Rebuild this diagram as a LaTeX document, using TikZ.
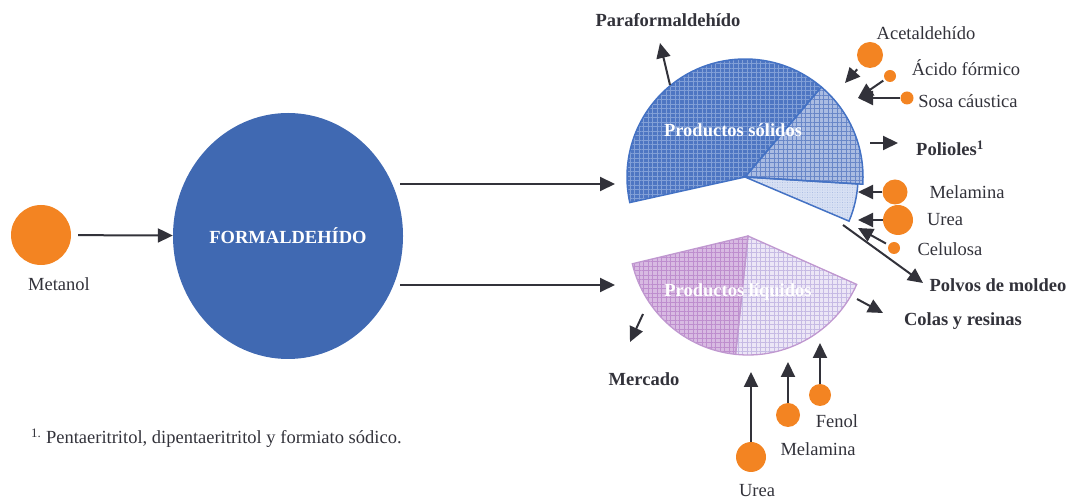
\documentclass[tikz,border=0pt]{standalone}
\usepackage{fontspec}
\setmainfont{Liberation Serif}
\usetikzlibrary{arrows.meta,patterns.meta,shapes.geometric}

\definecolor{naranja}{RGB}{243,132,34}
\definecolor{azulF}{RGB}{64,105,178}
\definecolor{gris}{RGB}{50,50,58}
\definecolor{borde}{RGB}{68,114,196}
\definecolor{azulA}{RGB}{78,118,194}
\definecolor{azulAl}{RGB}{130,160,215}
\definecolor{azulB}{RGB}{170,188,226}
\definecolor{azulBl}{RGB}{105,135,200}
\definecolor{azulC}{RGB}{215,224,243}
\definecolor{azulCl}{RGB}{150,172,220}
\definecolor{lila}{RGB}{192,152,208}
\definecolor{lilaA}{RGB}{216,186,226}
\definecolor{lilaAl}{RGB}{190,142,206}
\definecolor{lilaB}{RGB}{236,230,246}
\definecolor{lilaBl}{RGB}{198,186,228}

\newcommand\cuna[4]{(#1) -- ++(#2:#4) arc[start angle=#2,end angle=#3,radius=#4] -- cycle}

\begin{document}
\begin{tikzpicture}[x=1pt,y=1pt,
  flecha/.style={-{Triangle[length=15pt,width=14pt]},line width=2pt,draw=gris},
  bola/.style={circle,fill=naranja,inner sep=0pt,minimum size=#1},
  etiq/.style={text=gris,inner sep=0pt,font=\fontsize{18.5}{21}\selectfont},
  negrita/.style={etiq,font=\fontsize{18.5}{21}\selectfont\bfseries}]
  \useasboundingbox (0,0) rectangle (1070,500);

  % metanol -> formaldehido
  \node[bola=60pt] (metanol) at (41,265) {};
  \node[etiq] (lmetanol) at (59,216) {Metanol};
  \node[ellipse,fill=azulF,minimum width=230pt,minimum height=246pt,inner sep=0pt,
        text=white,font=\fontsize{18.5}{21}\selectfont\bfseries] (form) at (288,264) {FORMALDEHÍDO};
  \draw[flecha,shorten <=7pt] (metanol) -- (form);

  \coordinate (sal1) at (400,316);
  \coordinate (ent1) at (615,316);
  \coordinate (sal2) at (400,215);
  \coordinate (ent2) at (615,215);
  \draw[flecha] (sal1) -- (ent1);
  \draw[flecha] (sal2) -- (ent2);

  % productos solidos (tarta)
  \coordinate (S) at (745,323);
  \fill[azulA] \cuna{S}{49.7}{192.5}{118};
  \fill[azulB] \cuna{S}{-3.5}{49.7}{118};
  \fill[azulC] \cuna{S}{-23}{-3.5}{113};
  \foreach \ang in {0,90} {
    \fill[pattern={Lines[angle=\ang,distance=4.5pt,line width=.6pt]},pattern color=azulAl] \cuna{S}{49.7}{192.5}{118};
    \fill[pattern={Lines[angle=\ang,distance=4.5pt,line width=.5pt]},pattern color=azulBl] \cuna{S}{-3.5}{49.7}{118};
  }
  \fill[pattern={Dots[distance=2.5pt,radius=.35pt]},pattern color=azulCl] \cuna{S}{-23}{-3.5}{113};
  \draw[borde,line width=1.5pt] \cuna{S}{49.7}{192.5}{118};
  \draw[borde,line width=1.5pt] \cuna{S}{-3.5}{49.7}{118};
  \draw[borde,line width=1.5pt] \cuna{S}{-23}{-3.5}{113};
  \node[negrita,text=white] (solidos) at (733,370) {Productos sólidos};

  % productos liquidos (tarta)
  \coordinate (L) at (748,264);
  \fill[lilaA] \cuna{L}{193.5}{264}{119};
  \fill[lilaB] \cuna{L}{264}{336}{119};
  \foreach \ang in {0,90} {
    \fill[pattern={Lines[angle=\ang,distance=4.5pt,line width=.6pt]},pattern color=lilaAl] \cuna{L}{193.5}{264}{119};
    \fill[pattern={Lines[angle=\ang,distance=4.5pt,line width=.5pt]},pattern color=lilaBl] \cuna{L}{264}{336}{119};
  }
  \draw[lila,line width=1.3pt] \cuna{L}{193.5}{264}{119};
  \draw[lila,line width=1.3pt] \cuna{L}{264}{336}{119};
  \node[negrita,text=white] (liquidos) at (738,208) {Productos líquidos};

  % salidas de los solidos
  \coordinate (para0) at (670,415);
  \coordinate (para1) at (660,457);
  \draw[flecha] (para0) -- (para1);
  \node[negrita] (lpara) at (668,480) {Paraformaldehído};
  \coordinate (poli0) at (870,357);
  \coordinate (poli1) at (898,357);
  \draw[flecha] (poli0) -- (poli1);
  \node[negrita] (lpoli) at (950,352) {Polioles\textsuperscript{1}};
  \coordinate (polv0) at (843,275);
  \coordinate (polv1) at (923,217);
  \draw[flecha] (polv0) -- (polv1);
  \node[negrita] (lpolv) at (998,215) {Polvos de moldeo};

  % entradas de los solidos
  \node[bola=26pt] (acet) at (870,445) {};
  \node[etiq] (lacet) at (926,467) {Acetaldehído};
  \coordinate (acetT) at (845,417);
  \draw[flecha,shorten <=6pt] (acet) -- (acetT);
  \node[bola=12pt] (acido) at (890,424) {};
  \node[etiq] (lacido) at (966,432) {Ácido fórmico};
  \coordinate (acidoT) at (858,402);
  \draw[flecha,shorten <=2pt] (acido) -- (acidoT);
  \node[bola=13pt] (sosa) at (907,402) {};
  \node[etiq] (lsosa) at (968,399) {Sosa cáustica};
  \coordinate (sosaT) at (858,402);
  \draw[flecha] (sosa) -- (sosaT);
  \node[bola=25pt] (mel) at (895,308) {};
  \node[etiq] (lmel) at (967,308) {Melamina};
  \coordinate (melT) at (858,308);
  \draw[flecha] (mel) -- (melT);
  \node[bola=30pt] (urea) at (898,280) {};
  \node[etiq] (lurea) at (945,280) {Urea};
  \coordinate (ureaT) at (858,280);
  \draw[flecha] (urea) -- (ureaT);
  \node[bola=12pt] (celu) at (894,252) {};
  \node[etiq] (lcelu) at (950,251) {Celulosa};
  \coordinate (celuT) at (858,272);
  \draw[flecha,shorten <=3pt] (celu) -- (celuT);

  % salidas de los liquidos
  \coordinate (colas0) at (857,201);
  \coordinate (colas1) at (883,187);
  \draw[flecha] (colas0) -- (colas1);
  \node[negrita] (lcolas) at (963,179) {Colas y resinas};
  \coordinate (merc0) at (643,186);
  \coordinate (merc1) at (630,158);
  \draw[flecha] (merc0) -- (merc1);
  \node[negrita] (lmerc) at (644,121) {Mercado};

  % entradas de los liquidos
  \node[bola=30pt] (ureab) at (751,43) {};
  \node[etiq] (lureab) at (757,9.5) {Urea};
  \coordinate (ureabT) at (751,128);
  \draw[flecha] (ureab) -- (ureabT);
  \node[bola=24pt] (melb) at (788,85) {};
  \node[etiq] (lmelb) at (818,51) {Melamina};
  \coordinate (melbT) at (788,138);
  \draw[flecha] (melb) -- (melbT);
  \node[bola=22pt] (fenol) at (820,105) {};
  \node[etiq] (lfenol) at (837,79) {Fenol};
  \coordinate (fenolT) at (820,157);
  \draw[flecha] (fenol) -- (fenolT);

  % nota
  \node[etiq,anchor=west] (nota) at (31,62) {\textsuperscript{1.} Pentaeritritol, dipentaeritritol y formiato sódico.};
\end{tikzpicture}
\end{document}
